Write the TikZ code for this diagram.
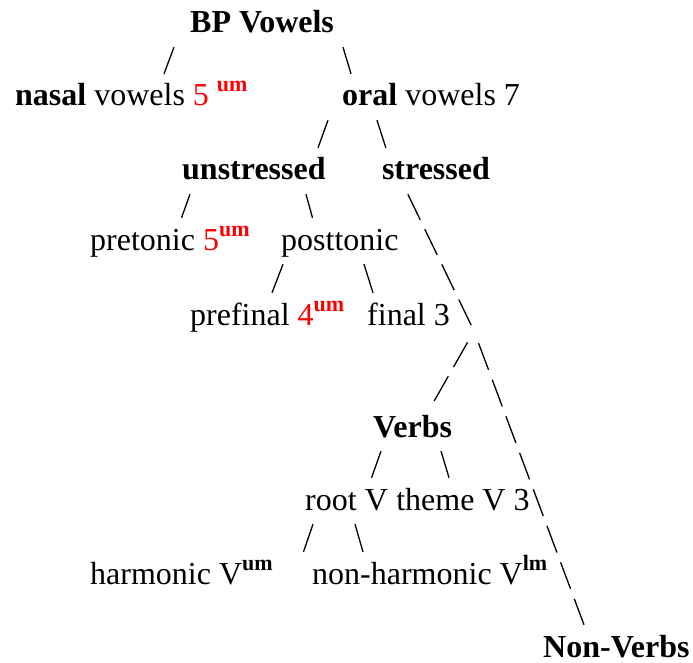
\documentclass[tikz,border=0pt]{standalone}
\usepackage{fontspec}
\setmainfont{Liberation Serif}
\usetikzlibrary{positioning}

\newcommand{\supmark}[1]{\raisebox{14pt}{\fontsize{22}{22}\selectfont\bfseries #1}}

\begin{document}
\begin{tikzpicture}[every node/.style={inner xsep=0pt, inner ysep=8pt, text height=24pt, text depth=6pt, font=\fontsize{32}{38}\selectfont},
  lbl/.style={anchor=base west},
  branch/.style={line width=1.3pt},
  chain/.style={line width=1.3pt, dash pattern=on 28.5pt off 10.5pt}]
  \useasboundingbox (0,0) rectangle (693pt,-663pt);

  \node[lbl] (root) at (190pt,-33pt) {\textbf{BP Vowels}};
  \node[below=73pt of root.base west, xshift=-175pt, lbl] (nasal) {\textbf{nasal} vowels \textcolor{red}{5 \supmark{um}}};
  \node[below=73pt of root.base west, xshift=152pt, lbl] (oral) {\textbf{oral} vowels 7};
  \node[below=74pt of oral.base west, xshift=-160pt, lbl] (unstr) {\textbf{unstressed}};
  \node[right=56pt of unstr.base east, lbl] (stressed) {\textbf{stressed}};
  \node[below=70pt of unstr.base west, xshift=-92pt, lbl] (pretonic) {pretonic \textcolor{red}{5\supmark{um}}};
  \node[below=70pt of unstr.base west, xshift=99pt, lbl] (posttonic) {posttonic};
  \node[below=75pt of posttonic.base west, xshift=-91pt, lbl] (prefinal) {prefinal \textcolor{red}{4\supmark{um}}};
  \node[below=75pt of posttonic.base west, xshift=86pt, lbl] (final) {final 3};
  \coordinate[below=6pt of final.base west, xshift=107pt] (fork);
  \node[below=112pt of final.base west, xshift=6pt, lbl] (verbs) {\textbf{Verbs}};
  \node[below=73pt of verbs.base west, xshift=-68pt, lbl] (rootV) {root V};
  \node[right=8pt of rootV.base east, lbl] (theme) {theme V 3};
  \node[below=74pt of rootV.base west, xshift=-215pt, lbl] (harmonic) {harmonic V\supmark{um}};
  \node[below=74pt of rootV.base west, xshift=7pt, lbl] (nonharm) {non-harmonic V\supmark{lm}};
  \node[below=73pt of nonharm.base west, xshift=231pt, lbl] (nonverbs) {\textbf{Non-Verbs}};

  \draw[branch] ([xshift=-16pt]root.south west) -- ([xshift=149pt]nasal.north west);
  \draw[branch] ([xshift=153pt]root.south west) -- ([xshift=9pt]oral.north west);
  \draw[branch] ([xshift=-14pt]oral.south west) -- ([xshift=136pt]unstr.north west);
  \draw[branch] ([xshift=35pt]oral.south west) -- ([xshift=4pt]stressed.north west);
  \draw[branch] ([xshift=8pt]unstr.south west) -- ([xshift=91.5pt]pretonic.north west);
  \draw[branch] ([xshift=124pt]unstr.south west) -- ([xshift=31.5pt]posttonic.north west);
  \draw[branch] ([xshift=2pt]posttonic.south west) -- ([xshift=82pt]prefinal.north west);
  \draw[branch] ([xshift=83pt]posttonic.south west) -- ([xshift=6pt]final.north west);
  \draw[chain] ([xshift=26pt]stressed.south west) -- (fork);
  \draw[chain, shorten <=13pt] (fork) -- ([xshift=59pt]verbs.north west);
  \draw[chain, shorten <=13pt] (fork) -- ([xshift=41pt]nonverbs.north west);
  \draw[branch] ([xshift=8pt]verbs.south west) -- ([xshift=66.5pt]rootV.north west);
  \draw[branch] ([xshift=68pt]verbs.south west) -- ([xshift=53pt]theme.north west);
  \draw[branch] ([xshift=8pt]rootV.south west) -- ([xshift=213.5pt]harmonic.north west);
  \draw[branch] ([xshift=50pt]rootV.south west) -- ([xshift=51pt]nonharm.north west);
\end{tikzpicture}
\end{document}
